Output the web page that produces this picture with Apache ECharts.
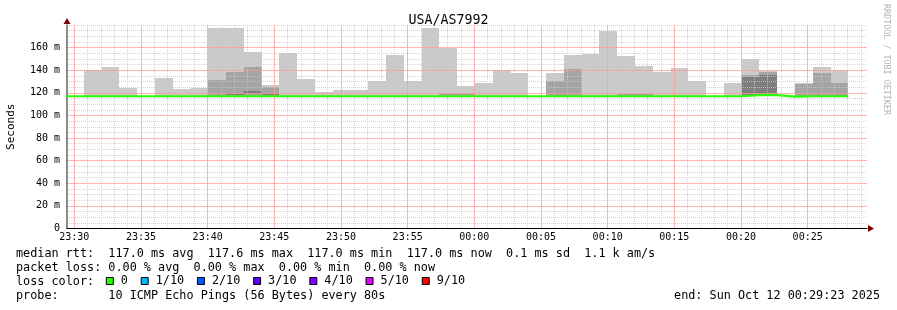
<!DOCTYPE html>
<html><head><meta charset="utf-8">
<script src="https://cdn.jsdelivr.net/npm/echarts@6/dist/echarts.min.js"></script>
<style>html,body{margin:0;padding:0;background:#fff}#c{width:897px;height:310px}</style>
</head><body><div id="c"></div>
<script>
// ---------- data ----------
const chartTitle = 'USA/AS7992';
const yAxisName = 'Seconds';
const timeOrigin = '23:30:00';
const axisStart = '23:29:27';
const axisEnd = '00:29:27';
const probeStart = '23:29:23';
const probeStepSeconds = 80;
const xTickLabels = ['23:30','23:35','23:40','23:45','23:50','23:55','00:00','00:05','00:10','00:15','00:20','00:25'];
const yTickValues = [0, 20, 40, 60, 80, 100, 120, 140, 160];
const yMax = 180;
const lossLabels = ['0', '1/10', '2/10', '3/10', '4/10', '5/10', '9/10'];
const lossThresholds = [0, 1, 2, 3, 4, 5, 9];
const lossColors = ['#26ff00', '#00b8ff', '#0059ff', '#5e00ff', '#7e00ff', '#dd00ff', '#ff0000'];
const smokeColors = ['#cacaca', '#a4a4a4', '#7e7e7e'];

// median rtt (ms) per 80 s probe round
const medianRtt = [
  117, 117, 117, 117, 117, 117, 117, 117, 117, 117,
  117, 117, 117, 117, 117, 117, 117, 117, 117, 117,
  117, 117, 117, 117, 117, 117, 117, 117, 117, 117,
  117, 117, 117, 117, 117, 117, 117, 117, 118.0, 118.0,
  116.6, 117, 117, 117
];
// lost pings per round
const lossCount = [
  0, 0, 0, 0, 0, 0, 0, 0, 0, 0,
  0, 0, 0, 0, 0, 0, 0, 0, 0, 0,
  0, 0, 0, 0, 0, 0, 0, 0, 0, 0,
  0, 0, 0, 0, 0, 0, 0, 0, 0, 0,
  0, 0, 0, 0
];
// sorted pings (ms): outer band p1..p10
const smokeP1 = [
  117, 117, 117, 117, 117, 117, 117, 117, 117, 117,
  117, 117, 117, 117, 117, 117, 117, 117, 117, 117,
  117, 117, 117, 117, 117, 117, 117, 117, 117, 117,
  117, 117, 117, 117, 117, 117, 117, 117, 117, 117,
  117, 117, 117, 117
];
const smokeP10 = [
  117, 140.5, 143.2, 124.6, 117, 133.5, 123.5, 124.6, 177.7, 177.7,
  156.2, 127.3, 155.6, 132.6, 120.8, 122.6, 122.6, 130.5, 153.7, 130.5,
  177.7, 160.0, 126.4, 128.8, 140.3, 137.9, 117, 137.3, 153.5, 154.4,
  174.8, 152.7, 144.1, 138.5, 142.0, 130.5, 117, 128.8, 150.3, 139.1,
  117, 128.5, 142.9, 140.5
];
// middle band p2..p9
const smokeP2 = [
  117, 117, 117, 117, 117, 117, 117, 117, 117, 117,
  117, 117, 117, 117, 117, 117, 117, 117, 117, 117,
  117, 117, 117, 117, 117, 117, 117, 117, 117, 117,
  117, 117, 117, 117, 117, 117, 117, 117, 117, 117,
  117, 117, 117, 117
];
const smokeP9 = [
  117, 117, 117, 117, 117, 117, 117, 117, 131.4, 138.5,
  142.9, 125.5, 117, 117, 117, 117, 117, 117, 117, 117,
  117, 120.0, 120.0, 117, 117, 117, 117, 130.5, 141.2, 117,
  117, 119.3, 119.3, 117, 117, 117, 117, 117, 136.1, 138.5,
  117, 127.6, 137.6, 128.8
];
// inner band p3..p8
const smokeP3 = [
  117, 117, 117, 117, 117, 117, 117, 117, 117, 118.0,
  118.8, 118.0, 117, 117, 117, 117, 117, 117, 117, 117,
  117, 117, 117, 117, 117, 117, 117, 117, 117, 117,
  117, 117, 117, 117, 117, 117, 117, 117, 117.5, 117.5,
  117, 117, 117, 117
];
const smokeP8 = [
  117, 117, 117, 117, 117, 117, 117, 117, 117, 119.5,
  121.7, 119.5, 117, 117, 117, 117, 117, 117, 117, 117,
  117, 117, 117, 117, 117, 117, 117, 117, 117, 117,
  117, 117, 117, 117, 117, 117, 117, 117, 134.3, 135.8,
  117, 117, 117, 117
];
const legendLines = [
  'median rtt:  117.0 ms avg  117.6 ms max  117.0 ms min  117.0 ms now  0.1 ms sd  1.1 k am/s',
  'packet loss: 0.00 % avg  0.00 % max  0.00 % min  0.00 % now',
  'loss color:',
  'probe:       10 ICMP Echo Pings (56 Bytes) every 80s'
];
const endText = 'end: Sun Oct 12 00:29:23 2025';
const watermark = 'RRDTOOL / TOBI OETIKER';

// ---------- helpers ----------
const MONO = '"DejaVu Sans Mono", monospace';
function hms(s) { const p = s.split(':').map(Number); return p[0] * 3600 + p[1] * 60 + (p[2] || 0); }
const ORIGIN = hms(timeOrigin);
function rel(s) { let d = hms(s) - ORIGIN; if (d < -43200) d += 86400; if (d > 43200) d -= 86400; return d; }
function pad(n) { return (n < 10 ? '0' : '') + n; }
function fmtTime(v) { const t = (((ORIGIN + v) % 86400) + 86400) % 86400; return pad(Math.floor(t / 3600)) + ':' + pad(Math.floor((t % 3600) / 60)); }
const xMin = rel(axisStart), xMax = rel(axisEnd);
const t0 = rel(probeStart);
const xTickValues = xTickLabels.map(l => rel(l + ':00'));
const xMinorValues = [];
for (let s = Math.ceil(xMin / 60) * 60; s <= xMax; s += 60) if (xTickValues.indexOf(s) < 0) xMinorValues.push(s);
const yMinorValues = [];
for (let v = 5; v <= yMax; v += 5) if (yTickValues.indexOf(v) < 0) yMinorValues.push(v);
function steps(arr) {
  const d = arr.map((v, k) => [t0 + k * probeStepSeconds, v]);
  d.push([t0 + arr.length * probeStepSeconds, arr[arr.length - 1]]);
  return d;
}
function bucket(c) { let b = 0; lossThresholds.forEach((t, i) => { if (c >= t) b = i; }); return b; }

const majorGrid = { color: '#ff9a9a', type: 'solid', width: 1, opacity: 0.75 };
const minorGrid = { color: '#c8c8c8', type: [1, 1], width: 1, opacity: 0.8 };
const arrowColor = '#7f0000';

// ---------- series ----------
const series = [];
const bands = [[smokeP1, smokeP10], [smokeP2, smokeP9], [smokeP3, smokeP8]];
bands.forEach(([lo, hi], i) => {
  series.push({
    type: 'custom', name: 'smoke ' + i, silent: true, z: 2, clip: true,
    encode: { x: [0, 1], y: [2, 3] },
    data: lo.map((v, k) => [t0 + k * probeStepSeconds, t0 + (k + 1) * probeStepSeconds, v, hi[k]]),
    renderItem: function (params, api) {
      if (!(api.value(3) > api.value(2))) return null;
      const a = api.coord([api.value(0), api.value(3)]);
      const b = api.coord([api.value(1), api.value(2)]);
      const cs = params.coordSys;
      let x1 = Math.max(Math.round(a[0]), cs.x), x2 = Math.min(Math.round(b[0]), cs.x + cs.width);
      const y1 = Math.round(a[1]), y2 = Math.round(b[1]);
      if (x2 <= x1 || y2 <= y1) return null;
      return { type: 'rect', shape: { x: x1, y: y1, width: x2 - x1, height: y2 - y1 }, style: { fill: smokeColors[i] } };
    }
  });
});
lossLabels.forEach((lab, i) => {
  series.push({
    type: 'line', name: lab, step: 'end',
    data: steps(medianRtt.map((v, k) => bucket(lossCount[k]) === i ? v : null)),
    symbol: 'none', silent: true, z: 8,
    color: lossColors[i],
    lineStyle: { color: lossColors[i], width: 2.2 },
    itemStyle: { color: lossColors[i] }
  });
});

const chart = echarts.init(document.getElementById('c'), null, { renderer: 'canvas' });
chart.setOption({
  animation: false,
  backgroundColor: '#ffffff',
  title: {
    text: chartTitle, left: 'center', top: 13, padding: 0,
    textStyle: { fontFamily: MONO, fontSize: 13.3, fontWeight: 'normal', color: '#000', lineHeight: 15 }
  },
  grid: { left: 67, right: 30, top: 25, bottom: 81.5, containLabel: false, outerBoundsMode: 'none' },
  legend: {
    data: lossLabels, left: 105.8, top: 275, padding: 0, orient: 'horizontal',
    itemWidth: 12, itemHeight: 7, itemGap: 12.8, icon: 'path://M0,0H7V7H0Z',
    itemStyle: { borderColor: '#000', borderWidth: 1 },
    textStyle: { fontFamily: MONO, fontSize: 11.8, color: '#000' },
    selectedMode: false
  },
  xAxis: [
    {
      type: 'value', min: xMin, max: xMax, position: 'bottom', z: 3.5,
      axisLine: { show: true, onZero: false, lineStyle: { color: '#000', width: 1 } },
      axisTick: { show: false, customValues: xTickValues },
      axisLabel: { customValues: xTickValues, formatter: fmtTime, margin: 4, color: '#000', fontFamily: MONO, fontSize: 10 },
      splitLine: { show: true, customValues: xTickValues, lineStyle: Object.assign({}, majorGrid) }
    },
    {
      type: 'value', min: xMin, max: xMax, position: 'bottom', z: 2.5,
      axisLine: { show: true, onZero: false, symbol: ['none', 'triangle'], symbolSize: [7, 6], symbolOffset: [0, 4], lineStyle: { color: arrowColor, width: 0 } },
      axisTick: { show: false, customValues: xMinorValues },
      axisLabel: { show: false, customValues: xMinorValues },
      splitLine: { show: true, customValues: xMinorValues, lineStyle: Object.assign({}, minorGrid) }
    }
  ],
  yAxis: [
    {
      type: 'value', min: 0, max: yMax, position: 'left', z: 3,
      name: yAxisName, nameLocation: 'middle', nameGap: 50, nameRotate: 90,
      nameTextStyle: { fontFamily: MONO, fontSize: 11, color: '#000' },
      axisLine: { show: true, onZero: false, lineStyle: { color: '#666', width: 1.5 } },
      axisTick: { show: false, customValues: yTickValues },
      axisLabel: { customValues: yTickValues, formatter: v => v === 0 ? '0' : v + ' m', margin: 7, color: '#000', fontFamily: MONO, fontSize: 10 },
      splitLine: { show: true, customValues: yTickValues, lineStyle: Object.assign({}, majorGrid) }
    },
    {
      type: 'value', min: 0, max: yMax, position: 'left', z: 2.5,
      axisLine: { show: true, onZero: false, symbol: ['none', 'triangle'], symbolSize: [7, 6], symbolOffset: [0, 4], lineStyle: { color: arrowColor, width: 0 } },
      axisTick: { show: false, customValues: yMinorValues },
      axisLabel: { show: false, customValues: yMinorValues },
      splitLine: { show: true, customValues: yMinorValues, lineStyle: Object.assign({}, minorGrid) }
    }
  ],
  graphic: [
    { type: 'text', x: 886, y: 4, rotation: -Math.PI / 2, style: { text: watermark, font: '8.4px ' + MONO, fill: '#b4b4b4', textAlign: 'left', textVerticalAlign: 'middle' } },
    { type: 'text', x: 16, y: 254, style: { text: legendLines[0], font: '11.8px ' + MONO, fill: '#000', textAlign: 'left', textVerticalAlign: 'middle' } },
    { type: 'text', x: 16, y: 268, style: { text: legendLines[1], font: '11.8px ' + MONO, fill: '#000', textAlign: 'left', textVerticalAlign: 'middle' } },
    { type: 'text', x: 16, y: 282, style: { text: legendLines[2], font: '11.8px ' + MONO, fill: '#000', textAlign: 'left', textVerticalAlign: 'middle' } },
    { type: 'text', x: 16, y: 296, style: { text: legendLines[3], font: '11.8px ' + MONO, fill: '#000', textAlign: 'left', textVerticalAlign: 'middle' } },
    { type: 'text', x: 880, y: 296, style: { text: endText, font: '11.8px ' + MONO, fill: '#000', textAlign: 'right', textVerticalAlign: 'middle' } }
  ],
  series: series
});
</script>
</body></html>
